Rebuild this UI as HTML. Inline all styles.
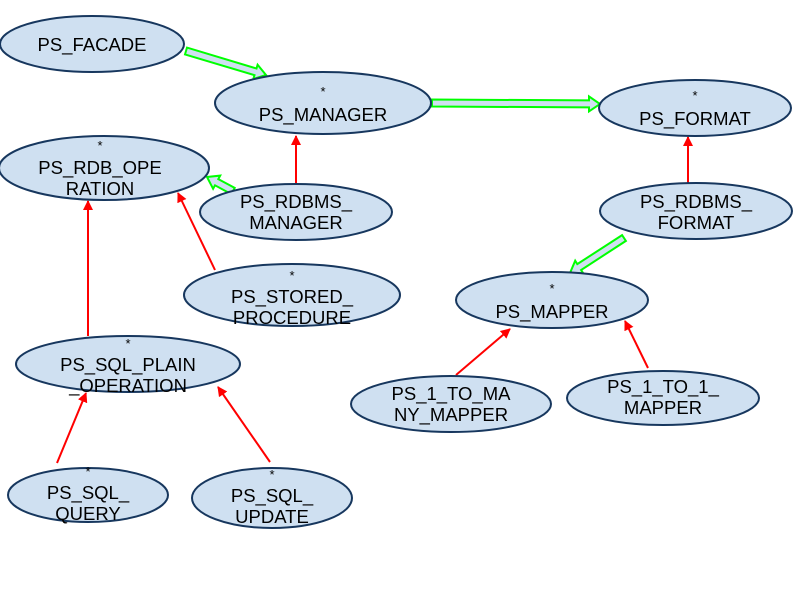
<!DOCTYPE html>
<html><head><meta charset="utf-8"><style>
html,body{margin:0;padding:0;background:#fff;width:800px;height:600px;overflow:hidden}
text{font-family:"Liberation Sans",sans-serif;fill:#000}
.n{font-size:18.5px}
.s{font-size:13px}
ellipse{fill:#cfe0f1;stroke:#17375e;stroke-width:2}
line.r{stroke:#ff0000;stroke-width:2}
</style></head><body>
<svg id="sv" width="800" height="600" xmlns="http://www.w3.org/2000/svg">
<defs><marker id="ah" markerWidth="10" markerHeight="10" refX="9" refY="5" orient="auto" markerUnits="userSpaceOnUse"><path d="M0,0 L10,5 L0,10 z" fill="#ff0000"/></marker></defs>
<g id="greens"></g>
<line class="r" x1="296" y1="184" x2="296" y2="136" marker-end="url(#ah)"/>
<line class="r" x1="688" y1="184" x2="688" y2="137" marker-end="url(#ah)"/>
<line class="r" x1="88" y1="336" x2="88" y2="201" marker-end="url(#ah)"/>
<line class="r" x1="215" y1="270" x2="178" y2="193" marker-end="url(#ah)"/>
<line class="r" x1="57" y1="463" x2="86" y2="393" marker-end="url(#ah)"/>
<line class="r" x1="270" y1="462" x2="218" y2="387" marker-end="url(#ah)"/>
<line class="r" x1="456" y1="375" x2="510" y2="329" marker-end="url(#ah)"/>
<line class="r" x1="648" y1="368" x2="625" y2="321" marker-end="url(#ah)"/>

<ellipse cx="92" cy="44" rx="92" ry="28"/>
<text class="n" x="92" y="51" text-anchor="middle">PS_FACADE</text>

<ellipse cx="323" cy="103" rx="108" ry="31"/>
<text class="s" x="323" y="96" text-anchor="middle">*</text>
<text class="n" x="323" y="121" text-anchor="middle">PS_MANAGER</text>

<ellipse cx="695" cy="108" rx="96" ry="28"/>
<text class="s" x="695" y="100" text-anchor="middle">*</text>
<text class="n" x="695" y="125" text-anchor="middle">PS_FORMAT</text>

<ellipse cx="104" cy="168" rx="105" ry="32"/>
<text class="s" x="100" y="150" text-anchor="middle">*</text>
<text class="n" x="100" y="174" text-anchor="middle">PS_RDB_OPE</text>
<text class="n" x="100" y="195" text-anchor="middle">RATION</text>

<ellipse cx="296" cy="212" rx="96" ry="28"/>
<text class="n" x="296" y="208" text-anchor="middle">PS_RDBMS_</text>
<text class="n" x="296" y="229" text-anchor="middle">MANAGER</text>

<ellipse cx="696" cy="211" rx="96" ry="28"/>
<text class="n" x="696" y="208" text-anchor="middle">PS_RDBMS_</text>
<text class="n" x="696" y="229" text-anchor="middle">FORMAT</text>

<ellipse cx="292" cy="295" rx="108" ry="31"/>
<text class="s" x="292" y="280" text-anchor="middle">*</text>
<text class="n" x="292" y="303" text-anchor="middle">PS_STORED_</text>
<text class="n" x="292" y="324" text-anchor="middle">PROCEDURE</text>

<ellipse cx="552" cy="300" rx="96" ry="28"/>
<text class="s" x="552" y="293" text-anchor="middle">*</text>
<text class="n" x="552" y="318" text-anchor="middle">PS_MAPPER</text>

<ellipse cx="128" cy="364" rx="112" ry="28"/>
<text class="s" x="128" y="348" text-anchor="middle">*</text>
<text class="n" x="128" y="371" text-anchor="middle">PS_SQL_PLAIN</text>
<text class="n" x="128" y="392" text-anchor="middle">_OPERATION</text>

<ellipse cx="451" cy="404" rx="100" ry="28"/>
<text class="n" x="451" y="400" text-anchor="middle">PS_1_TO_MA</text>
<text class="n" x="451" y="421" text-anchor="middle">NY_MAPPER</text>

<ellipse cx="663" cy="398" rx="96" ry="27"/>
<text class="n" x="663" y="393" text-anchor="middle">PS_1_TO_1_</text>
<text class="n" x="663" y="414" text-anchor="middle">MAPPER</text>

<ellipse cx="88" cy="495" rx="80" ry="27"/>
<text class="s" x="88" y="476" text-anchor="middle">*</text>
<text class="n" x="88" y="499" text-anchor="middle">PS_SQL_</text>
<text class="n" x="88" y="520" text-anchor="middle">QUERY</text>

<ellipse cx="272" cy="498" rx="80" ry="30"/>
<text class="s" x="272" y="479" text-anchor="middle">*</text>
<text class="n" x="272" y="502" text-anchor="middle">PS_SQL_</text>
<text class="n" x="272" y="523" text-anchor="middle">UPDATE</text>
</svg>
<script>
(function(){
var g=document.getElementById('greens');
function ba(x1,y1,x2,y2){
 var dx=x2-x1,dy=y2-y1,L=Math.sqrt(dx*dx+dy*dy),ux=dx/L,uy=dy/L,px=-uy,py=ux;
 var w=3.5,hw=7.5,hl=11;
 var bx=x2-ux*hl,by=y2-uy*hl;
 var pts=[[x1+px*w,y1+py*w],[bx+px*w,by+py*w],[bx+px*hw,by+py*hw],[x2,y2],[bx-px*hw,by-py*hw],[bx-px*w,by-py*w],[x1-px*w,y1-py*w]];
 var p=document.createElementNS('http://www.w3.org/2000/svg','polygon');
 p.setAttribute('points',pts.map(function(a){return a[0].toFixed(1)+','+a[1].toFixed(1)}).join(' '));
 p.setAttribute('fill','#cfe0f1');p.setAttribute('stroke','#00ff00');p.setAttribute('stroke-width','2');
 g.appendChild(p);
}
ba(186,51,266,75);
ba(432,103,600,104);
ba(233,191,207,177);
ba(624,238,570,273);
})();
</script>
</body></html>
